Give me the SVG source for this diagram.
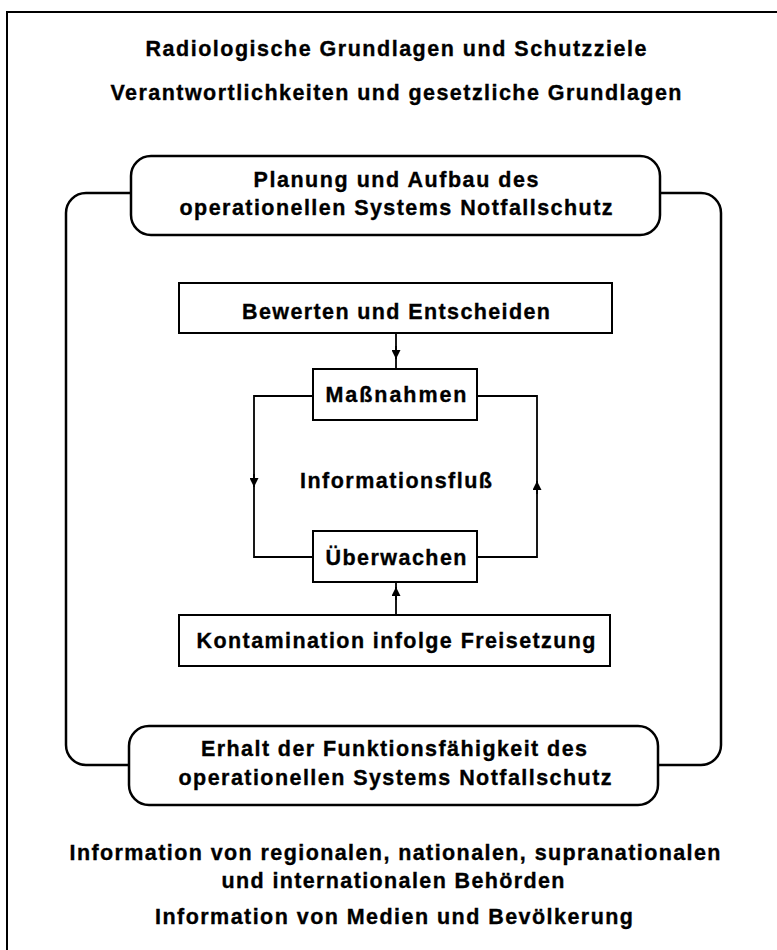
<svg xmlns="http://www.w3.org/2000/svg" width="777" height="950" viewBox="0 0 777 950">
  <defs>
    <style>
      text { font-family: "Liberation Sans", Arial, sans-serif; font-weight: bold; font-size: 21.5px; fill: #000; stroke: #000; stroke-width: 0.35; text-anchor: middle; }
      .box { fill: #fff; stroke: #000; stroke-width: 2; }
      .rbox { fill: #fff; stroke: #000; stroke-width: 2.5; }
      .line { fill: none; stroke: #000; stroke-width: 1.8; }
      .loop { fill: none; stroke: #000; stroke-width: 2.5; }
      .frame { fill: none; stroke: #000; stroke-width: 2; }
    </style>
    <marker id="ah" viewBox="0 0 10 10" refX="10" refY="5" markerWidth="10" markerHeight="9" markerUnits="userSpaceOnUse" orient="auto">
      <path d="M0,0 L10,5 L0,10 z" fill="#000"/>
    </marker>
  </defs>

  <rect width="777" height="950" fill="#fff"/>

  <g id="frame">
    <path class="frame" d="M7,950 V12 H777"/>
  </g>

  <g id="title1"><text x="396" y="56" textLength="501" lengthAdjust="spacing">Radiologische Grundlagen und Schutzziele</text></g>
  <g id="title2"><text x="396" y="100" textLength="571" lengthAdjust="spacing">Verantwortlichkeiten und gesetzliche Grundlagen</text></g>

  <g id="connectors">
    <path class="loop" d="M131,193 H86 A20,20 0 0 0 66,213 V745 A20,20 0 0 0 86,765 H129"/>
    <path class="loop" d="M660,193 H701 A20,20 0 0 1 721,213 V745 A20,20 0 0 1 701,765 H658"/>
    <path class="line" d="M396,333 V369"/>
    <path class="line" d="M396,346 V359" marker-end="url(#ah)"/>
    <path class="line" d="M313,396 H254 V557 H313"/>
    <path class="line" d="M254,474 V487" marker-end="url(#ah)"/>
    <path class="line" d="M476,557 H537 V396 H476"/>
    <path class="line" d="M537,494 V481" marker-end="url(#ah)"/>
    <path class="line" d="M396,615 V582"/>
    <path class="line" d="M396,600 V587" marker-end="url(#ah)"/>
  </g>

  <g id="planung">
    <rect class="rbox" x="131" y="156" width="529" height="79" rx="20" ry="20"/>
    <text x="396" y="187" textLength="285" lengthAdjust="spacing">Planung und Aufbau des</text>
    <text x="396" y="215" textLength="433" lengthAdjust="spacing">operationellen Systems Notfallschutz</text>
  </g>

  <g id="bewerten">
    <rect class="box" x="179" y="283" width="433" height="50"/>
    <text x="396" y="319" textLength="308" lengthAdjust="spacing">Bewerten und Entscheiden</text>
  </g>

  <g id="massnahmen">
    <rect class="box" x="313" y="369" width="164" height="51"/>
    <text x="396" y="402" textLength="141" lengthAdjust="spacing">Maßnahmen</text>
  </g>

  <g id="informationsfluss">
    <text x="396" y="488" textLength="192" lengthAdjust="spacing">Informationsfluß</text>
  </g>

  <g id="ueberwachen">
    <rect class="box" x="313" y="531" width="164" height="51"/>
    <text x="396" y="565" textLength="141" lengthAdjust="spacing">Überwachen</text>
  </g>

  <g id="kontamination">
    <rect class="box" x="179" y="615" width="431" height="51"/>
    <text x="396" y="648" textLength="399" lengthAdjust="spacing">Kontamination infolge Freisetzung</text>
  </g>

  <g id="erhalt">
    <rect class="rbox" x="129" y="726" width="529" height="79" rx="20" ry="20"/>
    <text x="394" y="756" textLength="386" lengthAdjust="spacing">Erhalt der Funktionsfähigkeit des</text>
    <text x="395" y="785" textLength="433" lengthAdjust="spacing">operationellen Systems Notfallschutz</text>
  </g>

  <g id="information">
    <text x="395" y="860" textLength="651" lengthAdjust="spacing">Information von regionalen, nationalen, supranationalen</text>
    <text x="393" y="888" textLength="343" lengthAdjust="spacing">und internationalen Behörden</text>
    <text x="394" y="924" textLength="478" lengthAdjust="spacing">Information von Medien und Bevölkerung</text>
  </g>
</svg>
